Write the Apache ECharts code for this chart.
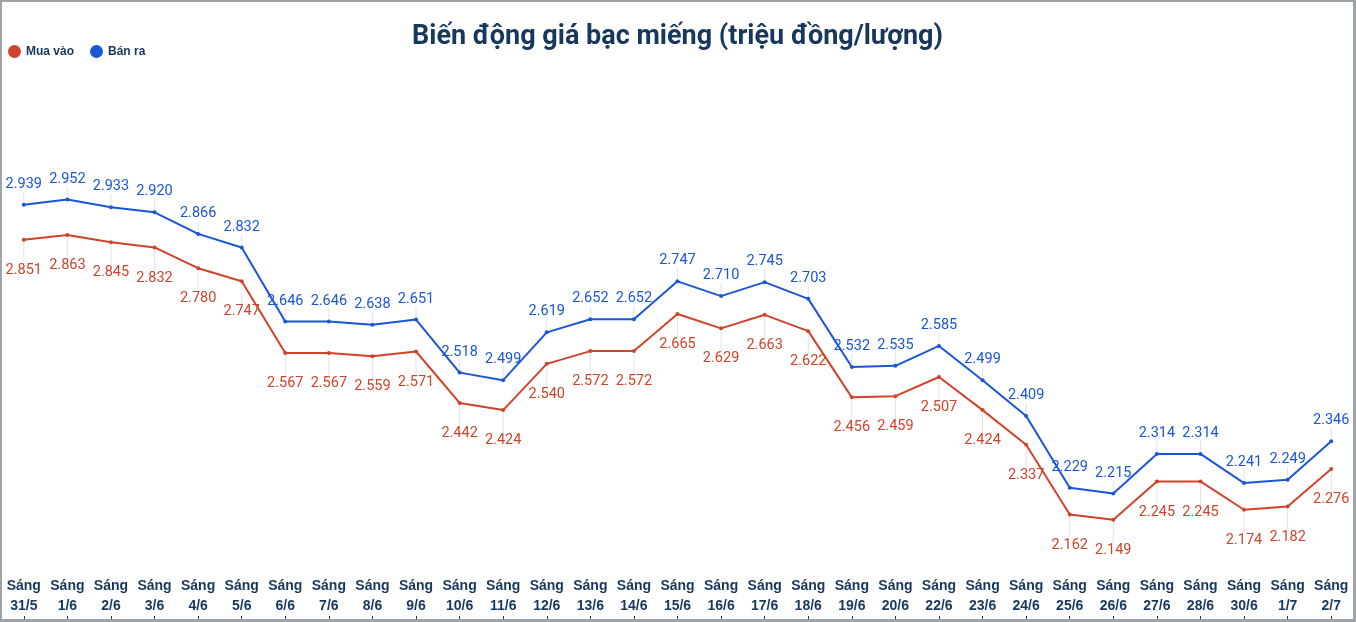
<!DOCTYPE html>
<html>
<head>
<meta charset="utf-8">
<script src="https://cdn.jsdelivr.net/npm/echarts@6/dist/echarts.min.js"></script>
<style>
html,body{margin:0;padding:0;background:#fff;}
#chart{width:1356px;height:622px;box-sizing:border-box;border-top:2px solid #9ea3a8;border-left:2px solid #9ea3a8;border-right:3px solid #9ea3a8;border-bottom:3px solid #9ea3a8;}
</style>
</head>
<body>
<div id="chart"></div>
<script>
const titleText = 'Biến động giá bạc miếng (triệu đồng/lượng)';
const categories = ['Sáng\n31/5','Sáng\n1/6','Sáng\n2/6','Sáng\n3/6','Sáng\n4/6','Sáng\n5/6','Sáng\n6/6','Sáng\n7/6','Sáng\n8/6','Sáng\n9/6','Sáng\n10/6','Sáng\n11/6','Sáng\n12/6','Sáng\n13/6','Sáng\n14/6','Sáng\n15/6','Sáng\n16/6','Sáng\n17/6','Sáng\n18/6','Sáng\n19/6','Sáng\n20/6','Sáng\n22/6','Sáng\n23/6','Sáng\n24/6','Sáng\n25/6','Sáng\n26/6','Sáng\n27/6','Sáng\n28/6','Sáng\n30/6','Sáng\n1/7','Sáng\n2/7'];
const muaVao = [2.851,2.863,2.845,2.832,2.780,2.747,2.567,2.567,2.559,2.571,2.442,2.424,2.540,2.572,2.572,2.665,2.629,2.663,2.622,2.456,2.459,2.507,2.424,2.337,2.162,2.149,2.245,2.245,2.174,2.182,2.276];
const banRa = [2.939,2.952,2.933,2.920,2.866,2.832,2.646,2.646,2.638,2.651,2.518,2.499,2.619,2.652,2.652,2.747,2.710,2.745,2.703,2.532,2.535,2.585,2.499,2.409,2.229,2.215,2.314,2.314,2.241,2.249,2.346];

const RED = '#d0432a';
const BLUE = '#1a56d6';
const NAVY = '#17375e';

const chart = echarts.init(document.getElementById('chart'), null, {renderer:'canvas'});
chart.setOption({
  animation: false,
  backgroundColor: '#fff',
  title: {
    text: titleText,
    left: 'center',
    top: 17,
    textStyle: {fontFamily: 'Roboto', fontWeight: 'bold', fontSize: 27, color: NAVY}
  },
  legend: {
    left: 1,
    top: 38,
    icon: 'circle',
    itemWidth: 13,
    itemHeight: 13,
    itemGap: 16,
    textStyle: {fontFamily: 'Liberation Sans, Arial', fontWeight: 'bold', fontSize: 12, color: NAVY},
    data: ['Mua vào','Bán ra']
  },
  grid: {left: 0, right: 0, top: 19, bottom: 0, containLabel: false},
  xAxis: {
    type: 'category',
    data: categories,
    boundaryGap: true,
    axisLine: {show: false},
    axisTick: {show: true, inside: true, length: 3, alignWithLabel: true, lineStyle: {color: '#333'}},
    axisLabel: {
      inside: true, margin: 3, interval: 0,
      fontFamily: 'Liberation Sans, Arial', fontWeight: 'bold', fontSize: 14, lineHeight: 20, color: NAVY
    },
    splitLine: {show: false}
  },
  yAxis: {
    type: 'value', min: 1.9, max: 3.4, show: false, splitLine: {show: false}
  },
  series: [
    {
      name: 'Mua vào', type: 'line', data: muaVao, color: RED,
      symbol: 'circle', symbolSize: 4,
      lineStyle: {width: 2, color: RED},
      itemStyle: {color: RED},
      label: {show: true, position: 'bottom', distance: 6, color: RED,
        fontFamily: 'Roboto', fontSize: 14.5,
        formatter: p => p.value.toFixed(3)},
      labelLayout: {dy: 15},
      labelLine: {show: true, lineStyle: {color: '#e2e2e2', width: 1}}
    },
    {
      name: 'Bán ra', type: 'line', data: banRa, color: BLUE,
      symbol: 'circle', symbolSize: 4,
      lineStyle: {width: 2, color: BLUE},
      itemStyle: {color: BLUE},
      label: {show: true, position: 'top', distance: 6, color: BLUE,
        fontFamily: 'Roboto', fontSize: 14.5,
        formatter: p => p.value.toFixed(3)},
      labelLayout: {dy: -5},
      labelLine: {show: true, lineStyle: {color: '#e2e2e2', width: 1}}
    }
  ]
});
</script>
</body>
</html>
